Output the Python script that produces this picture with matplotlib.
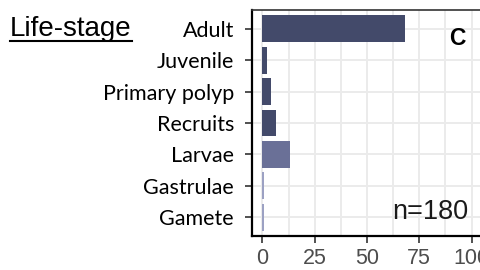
import matplotlib.pyplot as plt
from matplotlib.lines import Line2D

stages = ['Adult', 'Juvenile', 'Primary polyp', 'Recruits', 'Larvae', 'Gastrulae', 'Gamete']
values = [68, 2.4, 4.3, 6.7, 13, 0.6, 0.6]
colors = ['#434a6a', '#434a6a', '#434a6a', '#434a6a', '#6a7097', '#9ca1c3', '#9ca1c3']
xticks = [0, 25, 50, 75, 100]

fig = plt.figure(figsize=(4.81, 2.70), dpi=100)
ax = fig.add_axes([252 / 481, 34 / 270, 231 / 481, 226 / 270])

ypos = list(range(len(stages)))
ax.barh(ypos, values, height=0.85, color=colors, zorder=3)
ax.set_ylim(len(stages) - 0.4, -0.6)
ax.set_xlim(-5, 105.5)

ax.set_yticks(ypos)
ax.set_yticklabels(stages, fontsize=15.5, family='Lato', color='black')
ax.set_xticks(xticks)
ax.set_xticklabels([str(t) for t in xticks], fontsize=15.5, family='Liberation Sans', color='#4d4d4d')
ax.set_xticks([12.5, 37.5, 62.5, 87.5], minor=True)
ax.tick_params(axis='y', length=5, width=1.2, pad=8, color='#333333')
ax.tick_params(axis='x', length=5, width=1.2, pad=4, color='#333333')
ax.tick_params(axis='x', which='minor', length=0)

ax.grid(True, which='both', color='#ebebeb', linewidth=1.4, zorder=0)
ax.set_axisbelow(True)
for s in ax.spines.values():
    s.set_color('#333333')
    s.set_linewidth(1.2)
ax.spines['left'].set_color('black')
ax.spines['left'].set_linewidth(1.6)
ax.spines['bottom'].set_color('black')
ax.spines['bottom'].set_linewidth(1.6)

ax.text(93.4, 0.515, 'C', fontsize=16.5, fontweight='bold', family='Liberation Sans', ha='center', va='baseline')
ax.text(80.5, 6.07, 'n=180', fontsize=19.5, family='Liberation Sans', ha='center', va='baseline', color='#1a1a1a')

fig.text(10 / 481, 1 - 36.5 / 270, 'Life-stage', fontsize=20, family='Liberation Sans', ha='left', va='baseline')
fig.add_artist(Line2D([10 / 481, 132 / 481], [1 - 41 / 270, 1 - 41 / 270], color='black', linewidth=1.5))

fig.savefig('out.png', dpi=100)
